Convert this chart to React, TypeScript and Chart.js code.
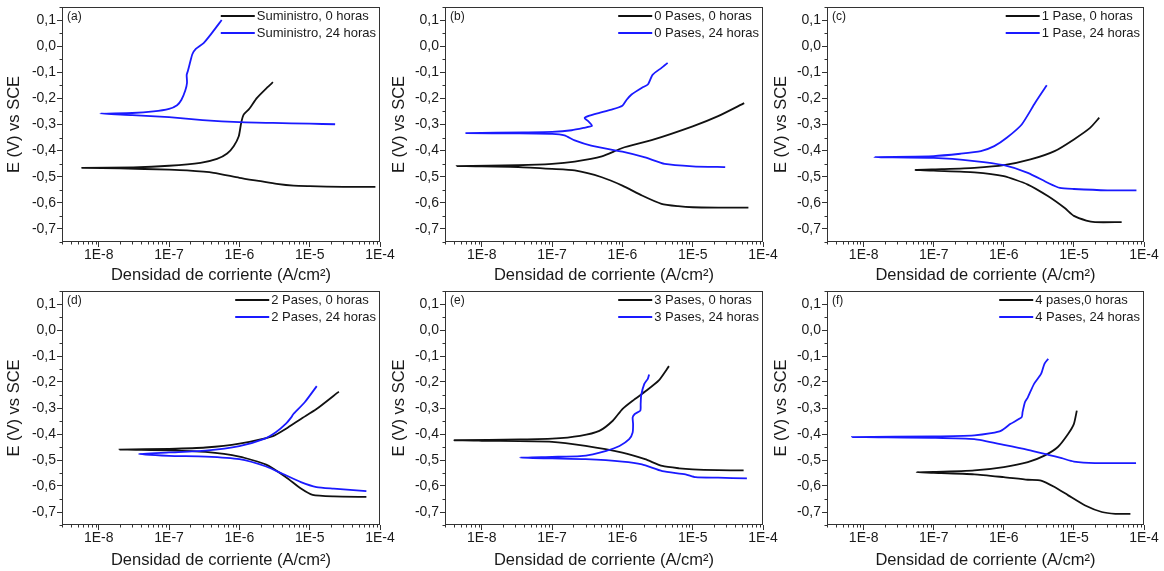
import React, { useEffect, useRef } from 'react';
import { Chart, registerables } from 'chart.js';

Chart.register(...registerables);

type Pt = [number, number];

// ---- Data: [current density (A/cm2), potential (V vs SCE)] in path order ----
const suministro0h: Pt[] = [
  [8.6e-5, -0.539], [3e-5, -0.539], [1e-5, -0.536], [5.9e-6, -0.534], [3.4e-6, -0.527], [2e-6, -0.517],
  [1e-6, -0.504], [4.3e-7, -0.485], [1.8e-7, -0.476], [1e-7, -0.473], [2e-8, -0.468], [5.8e-9, -0.466],
  [3.1e-8, -0.464], [1e-7, -0.458], [2.8e-7, -0.447], [4.8e-7, -0.432], [6.7e-7, -0.411], [8.3e-7, -0.383],
  [9.8e-7, -0.345], [1.06e-6, -0.294], [1.15e-6, -0.262], [1.36e-6, -0.242], [1.78e-6, -0.198],
  [2.47e-6, -0.159], [3.0e-6, -0.138],
];
const suministro24h: Pt[] = [
  [2.3e-5, -0.299], [1e-5, -0.297], [3e-6, -0.294], [1e-6, -0.291], [3e-7, -0.283], [1e-7, -0.272],
  [3e-8, -0.264], [1.05e-8, -0.258],
  [3e-8, -0.256], [6e-8, -0.25], [1e-7, -0.24], [1.3e-7, -0.226], [1.5e-7, -0.205], [1.7e-7, -0.17],
  [1.8e-7, -0.14], [1.78e-7, -0.11], [1.85e-7, -0.095], [2.0e-7, -0.06], [2.15e-7, -0.03], [2.4e-7, -0.01],
  [3.1e-7, 0.012], [4.0e-7, 0.048], [5.6e-7, 0.1],
];
const pases0_0h: Pt[] = [
  [6.2e-5, -0.618], [2.3e-5, -0.618], [1e-5, -0.617], [6.2e-6, -0.613], [3.6e-6, -0.604], [1.9e-6, -0.572],
  [1e-6, -0.534], [5.1e-7, -0.502], [2.1e-7, -0.476], [1e-7, -0.47], [3.3e-8, -0.463], [4.4e-9, -0.459],
  [3.3e-8, -0.456], [1e-7, -0.451], [2.1e-7, -0.442], [5.1e-7, -0.422], [1e-6, -0.39], [2.6e-6, -0.36],
  [1e-5, -0.307], [2.3e-5, -0.268], [5.4e-5, -0.218],
];
const pases0_24h: Pt[] = [
  [2.9e-5, -0.463], [1e-5, -0.46], [4e-6, -0.451], [2.1e-6, -0.426], [1e-6, -0.404], [3.6e-7, -0.381],
  [2.1e-7, -0.361], [1.5e-7, -0.342], [1e-7, -0.336], [3e-8, -0.334], [6e-9, -0.333],
  [4e-8, -0.33], [1e-7, -0.328], [1.9e-7, -0.322], [2.8e-7, -0.313], [3.7e-7, -0.305], [3.2e-7, -0.285],
  [2.9e-7, -0.275], [3.4e-7, -0.266], [4.6e-7, -0.256], [7e-7, -0.243], [1e-6, -0.228], [1.15e-6, -0.205],
  [1.35e-6, -0.185], [1.9e-6, -0.159], [2.3e-6, -0.147], [2.7e-6, -0.109], [3.6e-6, -0.083], [4.4e-6, -0.064],
];
const pase1_0h: Pt[] = [
  [4.8e-5, -0.674], [2e-5, -0.674], [1.5e-5, -0.668], [1e-5, -0.65], [7.4e-6, -0.62], [4.3e-6, -0.575],
  [2.2e-6, -0.53], [1e-6, -0.498], [3.8e-7, -0.483], [1e-7, -0.477], [5.5e-8, -0.474],
  [1.3e-7, -0.471], [3.8e-7, -0.466], [1e-6, -0.456], [2.4e-6, -0.434], [5.3e-6, -0.402], [1e-5, -0.357],
  [1.7e-5, -0.313], [2.3e-5, -0.274],
];
const pase1_24h: Pt[] = [
  [7.8e-5, -0.552], [3e-5, -0.552], [1e-5, -0.547], [6.3e-6, -0.543], [4.3e-6, -0.524], [2.2e-6, -0.485],
  [1e-6, -0.456], [3.8e-7, -0.44], [1e-7, -0.428], [1.42e-8, -0.425],
  [1e-7, -0.421], [2.4e-7, -0.412], [4.7e-7, -0.402], [7.3e-7, -0.383], [1.1e-6, -0.351], [1.8e-6, -0.3],
  [2.8e-6, -0.217], [4.1e-6, -0.15],
];
const pases2_0h: Pt[] = [
  [6.4e-5, -0.642], [2.2e-5, -0.64], [1.1e-5, -0.634], [7.5e-6, -0.61], [4.6e-6, -0.566], [2.4e-6, -0.518],
  [1e-6, -0.487], [3.3e-7, -0.469], [1e-7, -0.463], [1.97e-8, -0.46],
  [1e-7, -0.457], [3.3e-7, -0.452], [1e-6, -0.437], [3e-6, -0.408], [4.6e-6, -0.38], [7.5e-6, -0.342],
  [1.25e-5, -0.304], [2.6e-5, -0.237],
];
const pases2_24h: Pt[] = [
  [6.4e-5, -0.62], [2.2e-5, -0.61], [1.25e-5, -0.604], [7.5e-6, -0.585], [4.1e-6, -0.553], [2.4e-6, -0.525],
  [1e-6, -0.497], [3.3e-7, -0.487], [1e-7, -0.484], [3.7e-8, -0.477],
  [1e-7, -0.471], [3.3e-7, -0.464], [1e-6, -0.447], [2.2e-6, -0.42], [3.3e-6, -0.393], [4.6e-6, -0.36],
  [5.5e-6, -0.335], [5.8e-6, -0.325], [8.5e-6, -0.278], [1.26e-5, -0.216],
];
const pases3_0h: Pt[] = [
  [5.3e-5, -0.54], [2.3e-5, -0.539], [1e-5, -0.536], [6.4e-6, -0.532], [3.7e-6, -0.523], [2.1e-6, -0.497],
  [1e-6, -0.472], [3e-7, -0.446], [1e-7, -0.43], [1e-8, -0.426], [4.1e-9, -0.424],
  [3.5e-8, -0.421], [1e-7, -0.418], [2.5e-7, -0.407], [4.7e-7, -0.388], [7.3e-7, -0.349], [1e-6, -0.304],
  [1.4e-6, -0.272], [2.2e-6, -0.233], [3.3e-6, -0.194], [4.6e-6, -0.139],
];
const pases3_24h: Pt[] = [
  [5.9e-5, -0.571], [2.3e-5, -0.568], [1.1e-5, -0.566], [7.9e-6, -0.555], [3.7e-6, -0.543], [1.9e-6, -0.517],
  [1e-6, -0.506], [3e-7, -0.497], [1e-7, -0.494], [3.5e-8, -0.491],
  [1e-7, -0.488], [2.5e-7, -0.485], [3.8e-7, -0.478], [5.9e-7, -0.465], [9.1e-7, -0.446], [1.25e-6, -0.42],
  [1.4e-6, -0.394], [1.42e-6, -0.362], [1.4e-6, -0.336], [1.5e-6, -0.323], [1.8e-6, -0.31], [1.82e-6, -0.285],
  [1.85e-6, -0.252], [2.05e-6, -0.207], [2.3e-6, -0.188], [2.4e-6, -0.171],
];
const pases4_0h: Pt[] = [
  [6.4e-5, -0.707], [3.9e-5, -0.707], [2.5e-5, -0.7], [1.45e-5, -0.675], [8.3e-6, -0.636], [5.3e-6, -0.604],
  [3.4e-6, -0.579], [2.2e-6, -0.576], [1e-6, -0.566], [3.8e-7, -0.555], [1e-7, -0.549], [5.7e-8, -0.547],
  [1e-7, -0.546], [3.8e-7, -0.54], [1e-6, -0.527], [2.2e-6, -0.508], [3.8e-6, -0.483], [5.9e-6, -0.45],
  [8.3e-6, -0.399], [1e-5, -0.361], [1.1e-5, -0.31],
];
const pases4_24h: Pt[] = [
  [7.7e-5, -0.512], [2e-5, -0.512], [1e-5, -0.506], [6.7e-6, -0.493], [4.3e-6, -0.48], [2.2e-6, -0.461],
  [1e-6, -0.442], [3.8e-7, -0.42], [1e-7, -0.415], [6.8e-9, -0.412],
  [1e-7, -0.409], [3.8e-7, -0.405], [6.6e-7, -0.397], [9.2e-7, -0.387], [1.25e-6, -0.361], [1.8e-6, -0.335],
  [1.85e-6, -0.316], [2e-6, -0.278], [2.2e-6, -0.259], [2.7e-6, -0.207], [3.4e-6, -0.169], [3.8e-6, -0.13],
  [4.3e-6, -0.111],
];

const panelLetters = ['(a)', '(b)', '(c)', '(d)', '(e)', '(f)'];
const labels0h = ['Suministro, 0 horas', '0 Pases, 0 horas', '1 Pase, 0 horas', '2 Pases, 0 horas', '3 Pases, 0 horas', '4 pases,0 horas'];
const labels24h = ['Suministro, 24 horas', '0 Pases, 24 horas', '1 Pase, 24 horas', '2 Pases, 24 horas', '3 Pases, 24 horas', '4 Pases, 24 horas'];
const series0h = [suministro0h, pases0_0h, pase1_0h, pases2_0h, pases3_0h, pases4_0h];
const series24h = [suministro24h, pases0_24h, pase1_24h, pases2_24h, pases3_24h, pases4_24h];

const xTickValues = [1e-8, 1e-7, 1e-6, 1e-5, 1e-4];
const xMinorMantissas = [2, 3, 4, 5, 6, 7, 8, 9];
const yTickValues = [-0.7, -0.6, -0.5, -0.4, -0.3, -0.2, -0.1, 0, 0.1];
const yMinorValues = [-0.75, -0.65, -0.55, -0.45, -0.35, -0.25, -0.15, -0.05, 0.05, 0.15];
const X_MIN = 3e-9;
const X_MAX = 1e-4;
const Y_MIN = -0.75;
const Y_MAX = 0.15;

const xTitle = 'Densidad de corriente (A/cm²)';
const yTitle = 'E (V) vs SCE';

const FONT = "'Liberation Sans', Arial, Helvetica, sans-serif";
const TEXT = '#1a1a1a';
const AXIS = '#333333';
const BLACK = '#111111';
const BLUE = '#1a1aff';

Chart.defaults.font.family = FONT;

interface Geom {
  cl: number; ct: number; cw: number; ch: number;
  pl: number; pr: number; pt: number; pb: number;
  titlePadBottom: number;
}

const cols = [
  { cl: 0, cw: 400, pl: 62, pr: 380 },
  { cl: 385, cw: 400, pl: 445, pr: 763 },
  { cl: 767, cw: 397, pl: 827, pr: 1144 },
];
const rows = [
  { ct: 0, ch: 285, pt: 7, pb: 242, titlePadBottom: 0 },
  { ct: 285, ch: 286, pt: 291, pb: 525, titlePadBottom: 1 },
];

const decorPlugin = {
  id: 'decor',
  afterDraw(chart: any, _args: any, opts: any) {
    const { ctx, chartArea: ca, scales } = chart;
    const xs = scales.x;
    const ys = scales.y;
    ctx.save();
    ctx.strokeStyle = AXIS;
    ctx.lineWidth = 1;
    const l = Math.round(ca.left) + 0.5;
    const t = Math.round(ca.top) + 0.5;
    const r = Math.round(ca.right) - 0.5;
    const b = Math.round(ca.bottom) - 0.5;
    ctx.strokeRect(l, t, r - l, b - t);
    ctx.beginPath();
    for (let e = -9; e <= -5; e++) {
      for (const m of xMinorMantissas) {
        const v = m * Math.pow(10, e);
        if (v < X_MIN * 0.999 || v > X_MAX) continue;
        const px = Math.round(xs.getPixelForValue(v)) + 0.5;
        ctx.moveTo(px, b);
        ctx.lineTo(px, b + 3);
      }
    }
    for (const v of yMinorValues) {
      const py = Math.round(ys.getPixelForValue(v)) + 0.5;
      ctx.moveTo(l - 3, py);
      ctx.lineTo(l, py);
    }
    ctx.stroke();
    ctx.font = `13px ${FONT}`;
    const ds = chart.data.datasets;
    const maxW = Math.max(...ds.map((d: any) => ctx.measureText(d.label).width));
    const textX = ca.right - 4 - maxW;
    ds.forEach((d: any, i: number) => {
      const y = ca.top + 9 + i * 17;
      ctx.strokeStyle = d.borderColor;
      ctx.lineWidth = 2;
      ctx.beginPath();
      ctx.moveTo(textX - 36, y);
      ctx.lineTo(textX - 2, y);
      ctx.stroke();
      ctx.fillStyle = TEXT;
      ctx.textAlign = 'left';
      ctx.textBaseline = 'middle';
      ctx.fillText(d.label, textX, y);
    });
    ctx.font = `12px ${FONT}`;
    ctx.fillStyle = TEXT;
    ctx.textAlign = 'left';
    ctx.textBaseline = 'middle';
    ctx.fillText(opts.letter, ca.left + 5, ca.top + 10);
    ctx.restore();
  },
};

function fmtY(v: number): string {
  return (Math.round(v * 10) / 10).toFixed(1).replace('.', ',');
}

function Panel({ idx, g }: { idx: number; g: Geom }) {
  const ref = useRef<HTMLCanvasElement>(null);
  useEffect(() => {
    const toXY = (pts: Pt[]) => pts.map(([x, y]) => ({ x, y }));
    const chart = new Chart(ref.current as HTMLCanvasElement, {
      type: 'scatter',
      data: {
        datasets: [
          {
            label: labels0h[idx], data: toXY(series0h[idx]), borderColor: BLACK, backgroundColor: BLACK,
            borderWidth: 1.8, pointRadius: 0, showLine: true, tension: 0.2, order: 1,
          },
          {
            label: labels24h[idx], data: toXY(series24h[idx]), borderColor: BLUE, backgroundColor: BLUE,
            borderWidth: 1.8, pointRadius: 0, showLine: true, tension: 0.2, order: 0,
          },
        ],
      } as any,
      options: {
        animation: false,
        responsive: false,
        events: [],
        layout: { padding: { left: 0, top: g.pt - g.ct, right: g.cl + g.cw - g.pr, bottom: 0 } },
        plugins: {
          legend: { display: false },
          tooltip: { enabled: false },
          decor: { letter: panelLetters[idx] },
        } as any,
        scales: {
          x: {
            type: 'logarithmic',
            min: X_MIN,
            max: X_MAX,
            afterBuildTicks: (s: any) => { s.ticks = xTickValues.map((v) => ({ value: v, major: true })); },
            afterFit: (s: any) => { s.height = g.ct + g.ch - g.pb; s.paddingLeft = 0; s.paddingRight = 0; },
            ticks: {
              callback: (v: any) => '1E' + Math.round(Math.log10(Number(v))),
              autoSkip: false, maxRotation: 0, minRotation: 0, padding: 0, color: TEXT,
              font: { size: 14 },
            },
            grid: { display: true, drawOnChartArea: false, drawTicks: true, tickLength: 5, tickColor: AXIS, color: AXIS },
            border: { display: false },
            title: { display: true, text: xTitle, color: TEXT, font: { size: 16.5 }, padding: { top: 0, bottom: g.titlePadBottom } },
          },
          y: {
            type: 'linear',
            min: Y_MIN,
            max: Y_MAX,
            afterBuildTicks: (s: any) => { s.ticks = yTickValues.map((v) => ({ value: v })); },
            afterFit: (s: any) => { s.width = g.pl - g.cl; s.paddingTop = 0; s.paddingBottom = 0; },
            ticks: { callback: (v: any) => fmtY(Number(v)), padding: 1, color: TEXT, font: { size: 14 } },
            grid: { display: true, drawOnChartArea: false, drawTicks: true, tickLength: 5, tickColor: AXIS, color: AXIS },
            border: { display: false },
            title: { display: true, text: yTitle, color: TEXT, font: { size: 16.5 }, padding: { top: 5, bottom: 0 } },
          },
        },
      } as any,
      plugins: [decorPlugin as any],
    });
    return () => chart.destroy();
  }, [idx]);
  return (
    <canvas
      ref={ref}
      width={g.cw}
      height={g.ch}
      style={{ position: 'absolute', left: g.cl, top: g.ct, width: g.cw, height: g.ch }}
    />
  );
}

export default function App() {
  const panels: Geom[] = [];
  rows.forEach((r) => cols.forEach((c) => panels.push({ ...c, ...r })));
  return (
    <div style={{ position: 'fixed', left: 0, top: 0, width: 1164, height: 571, background: '#ffffff', overflow: 'hidden' }}>
      {panels.map((g, i) => <Panel key={i} idx={i} g={g} />)}
    </div>
  );
}
